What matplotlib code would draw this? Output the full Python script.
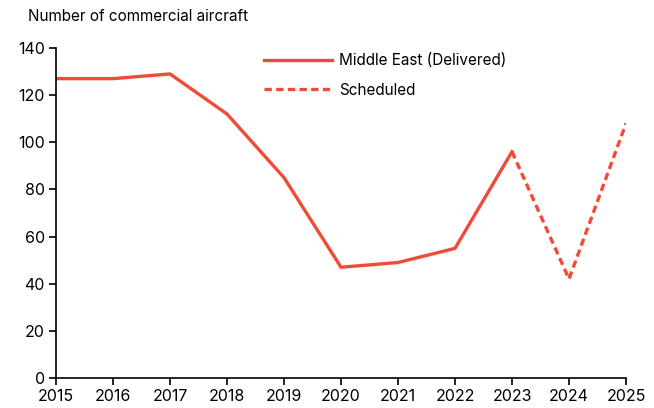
import matplotlib
matplotlib.use("Agg")
import matplotlib.pyplot as plt

years = [2015, 2016, 2017, 2018, 2019, 2020, 2021, 2022, 2023]
delivered = [127, 127, 129, 112, 85, 47, 49, 55, 96]
sched_years = [2023, 2024, 2025]
scheduled = [96, 42, 108]
color = "#F04B37"

plt.rcParams['font.family'] = ['Inter', 'DejaVu Sans']
fig = plt.figure(figsize=(6.54, 4.08), dpi=100)
ax = fig.add_axes([56/654, 30/408, 570/654, 330/408])
ax.plot(years, delivered, color=color, lw=2.4, label="Middle East (Delivered)")
ax.plot(sched_years, scheduled, color=color, lw=2.4, ls=(0, (2.2, 1.3)), label="Scheduled")
ax.set_xlim(2015, 2025)
ax.set_ylim(0, 140)
ax.set_xticks(range(2015, 2026))
ax.set_yticks(range(0, 141, 20))
for s in ["top", "right"]:
    ax.spines[s].set_visible(False)
for s in ["left", "bottom"]:
    ax.spines[s].set_linewidth(1.2)
ax.tick_params(labelsize=11.5, length=5, width=1.2, direction="out", pad=3)
ax.text(-0.049, 1.094, "Number of commercial aircraft", transform=ax.transAxes, fontsize=11, ha="left", va="center")
ax.legend(loc="upper left", bbox_to_anchor=(0.34, 1.026), frameon=False, fontsize=11, handlelength=4.5, handletextpad=0.45, labelspacing=0.95)
fig.savefig("out.png", dpi=100)
